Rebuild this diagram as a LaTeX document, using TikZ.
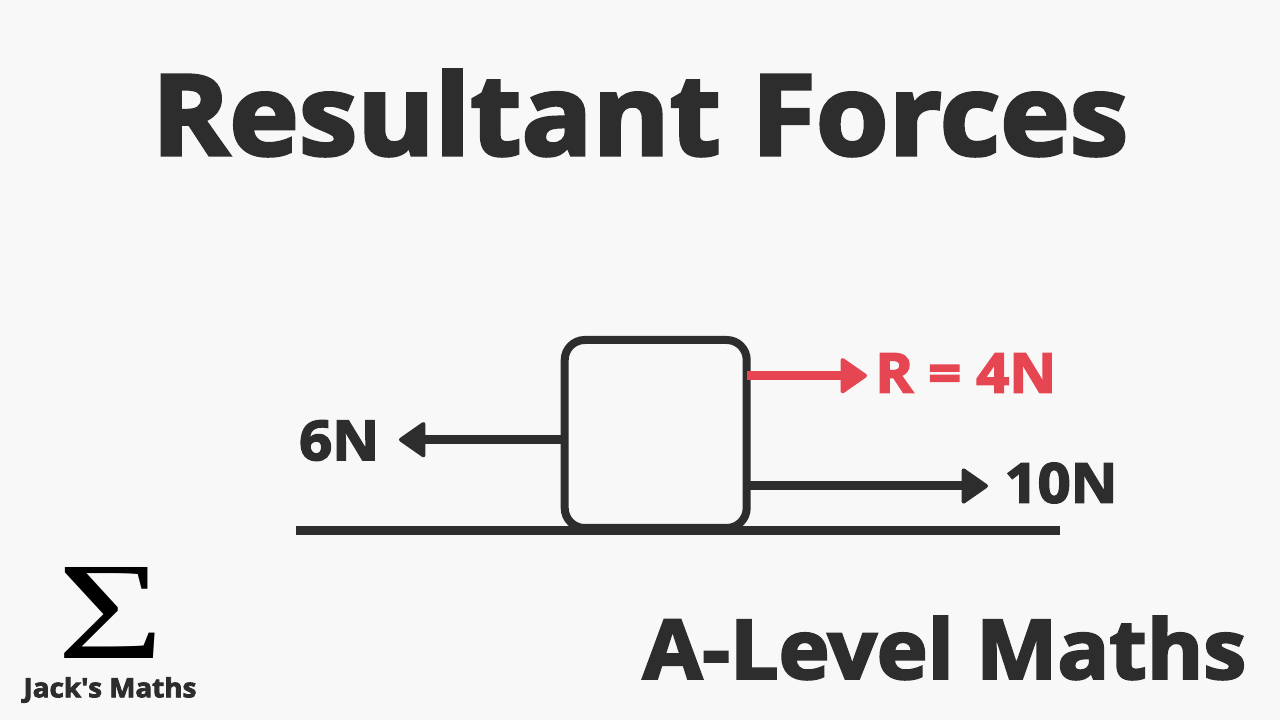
\documentclass[tikz,border=0pt]{standalone}
\usepackage{fontspec}
\usetikzlibrary{arrows.meta}
\setmainfont{Open Sans}[BoldFeatures={FakeBold=3,FakeStretch=1.05}]
\newfontfamily\sigmafont{Liberation Serif}[FakeStretch=1.32]
\definecolor{inkdark}{HTML}{2D2D2D}
\definecolor{forcered}{HTML}{E64552}
\definecolor{paper}{HTML}{F8F8F8}
\tikzset{
  force/.style={line width=9pt,-{Triangle[length=28pt,width=38pt,round,line width=4pt]},inkdark},
  lbl/.style={inner sep=0pt,text=inkdark},
}
\begin{document}
\begin{tikzpicture}[x=1pt,y=1pt]
  \fill[paper] (0,0) rectangle (1280,720);
  \useasboundingbox (0,0) rectangle (1280,720);
  \node[lbl,font=\fontsize{112}{112}\selectfont\bfseries] (title) at (640,607) {Resultant Forces};
  \node[lbl,font=\fontsize{82}{82}\selectfont\bfseries] (course) at (944.5,72) {A-Level Maths};
  \node[lbl,font=\fontsize{26.5}{26.5}\selectfont\bfseries] (brand) at (110,30) {Jack\textquotesingle s Maths};
  \node[inner sep=0pt,text=black,font=\fontsize{139}{139}\sigmafont] (sigma) at (110.5,107) {Σ};
  \node[draw=inkdark,line width=8pt,rounded corners=20pt,minimum width=182pt,minimum height=188pt,inner sep=0pt,outer sep=0pt] (block) at (655.7,286) {};
  \coordinate (groundL) at (295.5,189.3);
  \coordinate (groundR) at (1060,189.3);
  \draw[inkdark,line width=9pt] (groundL) -- (groundR);
  \coordinate (leftTip) at (399,280.3);
  \coordinate (redTip) at (867,344.3);
  \coordinate (rightTip) at (988,234);
  \draw[force] (block.west |- leftTip) -- (leftTip);
  \draw[force] (block.east |- rightTip) -- (rightTip);
  \draw[force,forcered] (block.east |- redTip) -- (redTip);
  \node[lbl,font=\fontsize{55}{55}\selectfont\bfseries,anchor=west] (sixN) at (299,279.5) {6N};
  \node[lbl,font=\fontsize{55}{55}\selectfont\bfseries,anchor=west] (tenN) at (1004.5,237) {10N};
  \node[lbl,text=forcered,font=\fontsize{55}{55}\selectfont\bfseries,anchor=west] (resN) at (875,347) {R = 4N};
\end{tikzpicture}
\end{document}
